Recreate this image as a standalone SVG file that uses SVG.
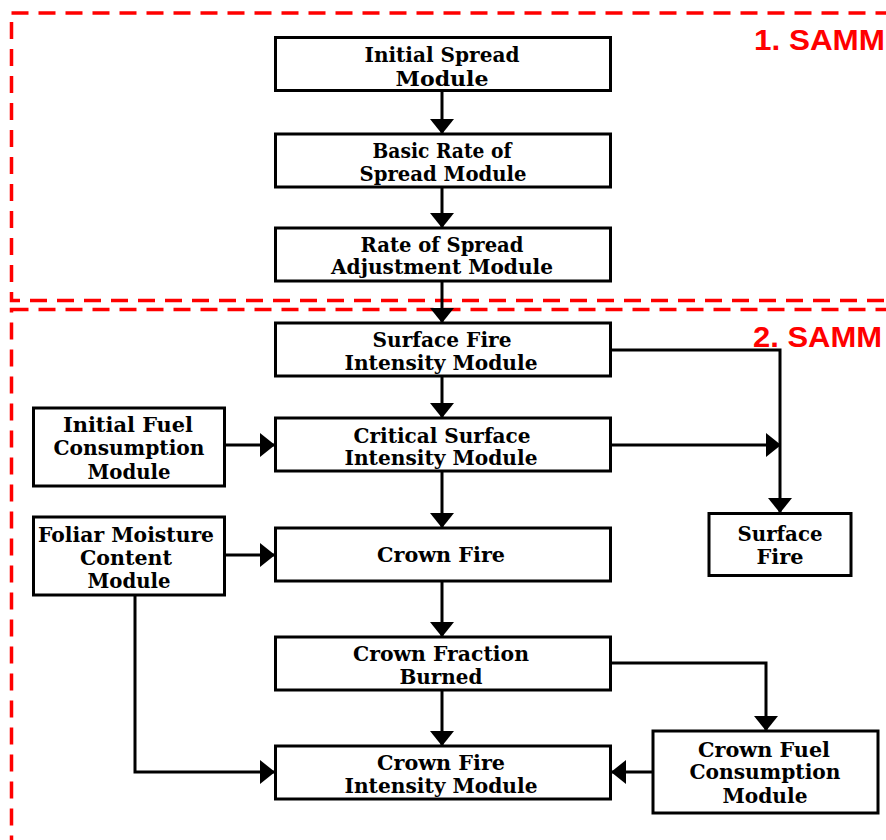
<svg xmlns="http://www.w3.org/2000/svg" width="886" height="840" viewBox="0 0 886 840">
<style>
.bx{fill:#fff;stroke:#000;stroke-width:3}
.t{font-family:"DejaVu Serif","Liberation Serif",serif;font-weight:bold;font-size:21px;fill:#000;text-anchor:middle}
.c{fill:none;stroke:#000;stroke-width:3}
.zone{fill:none;stroke:#ff0000;stroke-width:3.5;stroke-dasharray:17 10}
.lbl{font-family:"Liberation Sans",Arial,sans-serif;font-weight:bold;font-size:29px;fill:#ff0000}
</style>
<defs>
<marker id="ah" markerUnits="userSpaceOnUse" markerWidth="16" markerHeight="26" refX="14" refY="12" orient="auto">
<path d="M0,0 L15,12 L0,24 z" fill="#000"/>
</marker>
</defs>
<g id="zones">
<rect class="zone" x="11.5" y="13" width="900" height="287.5"/>
<rect class="zone" x="11.5" y="309.5" width="900" height="600"/>
<text class="lbl" x="754" y="50" textLength="131" lengthAdjust="spacingAndGlyphs">1. SAMM</text>
<text class="lbl" x="753" y="346.5" textLength="129" lengthAdjust="spacingAndGlyphs">2. SAMM</text>
</g>
<g id="connectors">
<path class="c" d="M442,91 V133" marker-end="url(#ah)"/>
<path class="c" d="M442,188 V227" marker-end="url(#ah)"/>
<path class="c" d="M442,282 V322" marker-end="url(#ah)"/>
<path class="c" d="M442,376 V417" marker-end="url(#ah)"/>
<path class="c" d="M442,472 V527" marker-end="url(#ah)"/>
<path class="c" d="M442,582 V636" marker-end="url(#ah)"/>
<path class="c" d="M442,690 V745" marker-end="url(#ah)"/>
<path class="c" d="M226,445 H274" marker-end="url(#ah)"/>
<path class="c" d="M226,555 H274" marker-end="url(#ah)"/>
<path class="c" d="M135,595 V772 H274" marker-end="url(#ah)"/>
<path class="c" d="M611,350 H780 V512" marker-end="url(#ah)"/>
<path class="c" d="M611,445 H780" marker-end="url(#ah)"/>
<path class="c" d="M611,663 H766 V730" marker-end="url(#ah)"/>
<path class="c" d="M652,772 H612" marker-end="url(#ah)"/>
</g>
<g id="initial-spread">
<rect class="bx" x="275.5" y="37.5" width="335" height="53"/>
<text class="t" x="442" y="62" textLength="155" lengthAdjust="spacingAndGlyphs">Initial Spread</text>
<text class="t" x="442" y="86" textLength="93" lengthAdjust="spacingAndGlyphs">Module</text>
</g>
<g id="basic-rate">
<rect class="bx" x="275.5" y="134" width="335" height="53"/>
<text class="t" x="442" y="158" textLength="139" lengthAdjust="spacingAndGlyphs">Basic Rate of</text>
<text class="t" x="443" y="181" textLength="167" lengthAdjust="spacingAndGlyphs">Spread Module</text>
</g>
<g id="ros-adjust">
<rect class="bx" x="275.5" y="228" width="335" height="53"/>
<text class="t" x="442" y="251.5" textLength="163" lengthAdjust="spacingAndGlyphs">Rate of Spread</text>
<text class="t" x="442" y="274" textLength="222" lengthAdjust="spacingAndGlyphs">Adjustment Module</text>
</g>
<g id="surface-intensity">
<rect class="bx" x="275.5" y="323" width="335" height="53"/>
<text class="t" x="442" y="347" textLength="139" lengthAdjust="spacingAndGlyphs">Surface Fire</text>
<text class="t" x="441" y="369.5" textLength="193" lengthAdjust="spacingAndGlyphs">Intensity Module</text>
</g>
<g id="critical-surface">
<rect class="bx" x="275.5" y="418" width="335" height="53"/>
<text class="t" x="442" y="443" textLength="177" lengthAdjust="spacingAndGlyphs">Critical Surface</text>
<text class="t" x="441" y="465" textLength="193" lengthAdjust="spacingAndGlyphs">Intensity Module</text>
</g>
<g id="crown-fire">
<rect class="bx" x="275.5" y="528" width="335" height="53"/>
<text class="t" x="441" y="562" textLength="128" lengthAdjust="spacingAndGlyphs">Crown Fire</text>
</g>
<g id="crown-fraction">
<rect class="bx" x="275.5" y="637" width="335" height="53"/>
<text class="t" x="441" y="661" textLength="176" lengthAdjust="spacingAndGlyphs">Crown Fraction</text>
<text class="t" x="441" y="683.5" textLength="83" lengthAdjust="spacingAndGlyphs">Burned</text>
</g>
<g id="crown-intensity">
<rect class="bx" x="275.5" y="746" width="335" height="53"/>
<text class="t" x="441" y="770" textLength="128" lengthAdjust="spacingAndGlyphs">Crown Fire</text>
<text class="t" x="441" y="793" textLength="193" lengthAdjust="spacingAndGlyphs">Intensity Module</text>
</g>
<g id="initial-fuel">
<rect class="bx" x="33.5" y="408" width="191" height="78"/>
<text class="t" x="128" y="432" textLength="130" lengthAdjust="spacingAndGlyphs">Initial Fuel</text>
<text class="t" x="129" y="455" textLength="151" lengthAdjust="spacingAndGlyphs">Consumption</text>
<text class="t" x="129" y="479" textLength="83" lengthAdjust="spacingAndGlyphs">Module</text>
</g>
<g id="foliar-moisture">
<rect class="bx" x="33.5" y="517" width="191" height="78"/>
<text class="t" x="126" y="542" textLength="176" lengthAdjust="spacingAndGlyphs">Foliar Moisture</text>
<text class="t" x="126" y="565" textLength="92" lengthAdjust="spacingAndGlyphs">Content</text>
<text class="t" x="129" y="588" textLength="83" lengthAdjust="spacingAndGlyphs">Module</text>
</g>
<g id="surface-fire">
<rect class="bx" x="709" y="513.5" width="142" height="62"/>
<text class="t" x="780" y="541" textLength="85" lengthAdjust="spacingAndGlyphs">Surface</text>
<text class="t" x="780" y="564" textLength="47" lengthAdjust="spacingAndGlyphs">Fire</text>
</g>
<g id="crown-fuel">
<rect class="bx" x="653" y="731" width="225" height="82"/>
<text class="t" x="764" y="757" textLength="132" lengthAdjust="spacingAndGlyphs">Crown Fuel</text>
<text class="t" x="765" y="778.5" textLength="151" lengthAdjust="spacingAndGlyphs">Consumption</text>
<text class="t" x="765" y="802.5" textLength="85" lengthAdjust="spacingAndGlyphs">Module</text>
</g>
</svg>
